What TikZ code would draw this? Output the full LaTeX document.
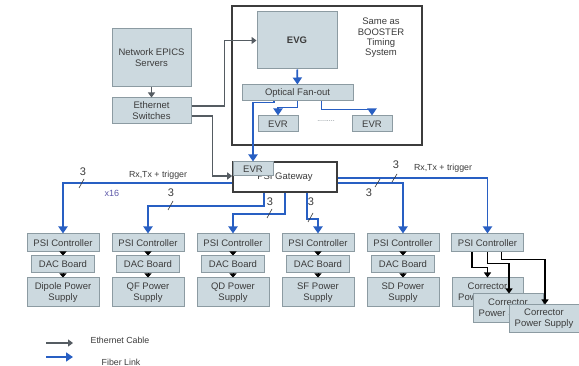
\documentclass[tikz,border=0pt]{standalone}
\usepackage{fontspec}
\setmainfont{Liberation Sans}
\usetikzlibrary{arrows.meta}
\definecolor{boxfill}{RGB}{204,217,223}
\definecolor{boxline}{RGB}{140,155,162}
\definecolor{fiberblue}{RGB}{40,95,195}
\definecolor{ethgray}{RGB}{85,92,98}
\definecolor{txt}{RGB}{60,60,60}
\definecolor{countblue}{RGB}{95,90,170}
\tikzset{
  unit/.style={draw=boxline, fill=boxfill, line width=1pt, inner sep=0pt, align=center,
    text=txt, font=\fontsize{9.5}{11}\selectfont},
  ctrl/.style={unit, minimum width=72, minimum height=18},
  dac/.style={unit, minimum width=63, minimum height=17},
  supply/.style={unit, minimum width=72, minimum height=29},
  fiber/.style={draw=fiberblue, line width=1.8pt, -{Triangle[width=9pt,length=7pt]}},
  eth/.style={draw=ethgray, line width=1.5pt, -{Triangle[width=7pt,length=5pt]}},
  step down/.style={line width=0.8pt, -{Triangle[width=7pt,length=4pt]}},
  wire/.style={line width=1.3pt, -{Triangle[width=7pt,length=5pt]}},
  tick/.style={draw=txt, line width=0.6pt},
  count/.style={text=txt, font=\fontsize{11}{12}\selectfont},
  tag/.style={text=txt, font=\fontsize{8.8}{10}\selectfont}
}
\begin{document}
\begin{tikzpicture}[x=1pt, y=-1pt]
    \useasboundingbox[fill=white] (0,0) rectangle (579,366);
    % timing system frame
    \draw[draw=txt, line width=1.6pt] (232,6) rectangle (422,145);
    \node[unit, minimum width=80, minimum height=57, font=\fontsize{9.5}{11}\selectfont\bfseries] (evg) at (297,40.5) {EVG};
    \node[text=txt, align=center, font=\fontsize{9.5}{10.3}\selectfont] (same) at (381,38) {Same as\\BOOSTER\\Timing\\System};
    \node[unit, minimum width=111, minimum height=16] (fan) at (297.5,93) {Optical Fan-out};
    \node[unit, minimum width=40, minimum height=16] (evr1) at (278,124) {EVR};
    \node[unit, minimum width=40, minimum height=16] (evr2) at (372,124) {EVR};
    \node[text=boxline!80!black, font=\fontsize{7}{8}\selectfont] (dots) at (326,121) {.........};
    % network side
    \node[unit, minimum width=79, minimum height=58] (net) at (151.5,58) {Network EPICS\\Servers};
    \node[unit, minimum width=79, minimum height=26] (es) at (151.5,111) {Ethernet\\Switches};
    % gateway
    \node[draw=txt, fill=white, line width=1.6pt, minimum width=104, minimum height=30, inner sep=0pt,
      text=txt, font=\fontsize{9.5}{11}\selectfont] (gw) at (285,177) {\raisebox{-6pt}{PSI Gateway}};
    \node[unit, minimum width=40, minimum height=14] (gevr) at (253,169) {EVR};
    % columns
    \node[ctrl] (c1) at (63,243) {PSI Controller};
    \node[dac] (d1) at (63,264.5) {DAC Board};
    \node[supply] (p1) at (63,292.5) {Dipole Power\\Supply};
    \node[ctrl] (c2) at (148,243) {PSI Controller};
    \node[dac] (d2) at (148,264.5) {DAC Board};
    \node[supply] (p2) at (148,292.5) {QF Power\\Supply};
    \node[ctrl] (c3) at (233,243) {PSI Controller};
    \node[dac] (d3) at (233,264.5) {DAC Board};
    \node[supply] (p3) at (233,292.5) {QD Power\\Supply};
    \node[ctrl] (c4) at (318,243) {PSI Controller};
    \node[dac] (d4) at (318,264.5) {DAC Board};
    \node[supply] (p4) at (318,292.5) {SF Power\\Supply};
    \node[ctrl] (c5) at (403,243) {PSI Controller};
    \node[dac] (d5) at (403,264.5) {DAC Board};
    \node[supply] (p5) at (403,292.5) {SD Power\\Supply};
    \node[ctrl] (c6) at (487.5,243) {PSI Controller};
    \node[supply, minimum width=71] (cp1) at (487.5,292.5) {Corrector\\Power Supply};
    \node[supply, minimum width=70] (cp2) at (508,308.5) {Corrector\\Power Supply};
    \node[supply, minimum width=70, minimum height=28] (cp3) at (544,319) {Corrector\\Power Supply};
    \draw[step down] (c1) -- (d1);
    \draw[step down] (d1) -- (p1);
    \draw[step down] (c2) -- (d2);
    \draw[step down] (d2) -- (p2);
    \draw[step down] (c3) -- (d3);
    \draw[step down] (d3) -- (p3);
    \draw[step down] (c4) -- (d4);
    \draw[step down] (d4) -- (p4);
    \draw[step down] (c5) -- (d5);
    \draw[step down] (d5) -- (p5);
    \draw[wire] ([xshift=-15.5pt]c6.south) -- ++(0,15) -| (cp1.north);
    \draw[wire] (c6.south) -- ++(0,11) -| ([xshift=1pt]cp2.north);
    \draw[wire] ([xshift=14pt]c6.south) -- ++(0,7) -| ([xshift=1pt]cp3.north);
    % ethernet
    \draw[eth] (net) -- (es);
    \draw[eth] ([yshift=5pt]es.east) -- ++(33,0) |- (evg.west);
    \draw[eth] ([yshift=-5pt]es.east) -- ++(21,0) |- ([yshift=1pt]gw.west);
    % fiber
    \draw[fiber] (evg) -- (fan);
    \draw[fiber] (fan.south) -- ++(0,6) -| (evr1.north);
    \draw[fiber] ([xshift=24pt]fan.south) -- ++(0,8) -| (evr2.north);
    \draw[fiber] ([xshift=-23.5pt]fan.south) -- ++(0,1) -| (gevr.north);
    \draw[fiber] ([yshift=-6pt]gw.west) -| (c1.north);
    \draw[fiber] ([xshift=-21pt]gw.south) -- ++(0,13) -| (c2.north);
    \draw[fiber] (gw.south) -- ++(0,21) -| (c3.north);
    \draw[fiber] ([xshift=22pt]gw.south) -- ++(0,26) -| (c4.north);
    \draw[fiber] ([yshift=-6pt]gw.east) -| (c5.north);
    \draw[fiber] ([yshift=-1pt]gw.east) -| (c6.north);
    % counts on the fiber bundles
    \draw[tick] (79,188) -- (84,179);
    \node[count] (n1) at (83,172) {3};
    \draw[tick] (168,210) -- (173,201);
    \node[count] (n2) at (171,193) {3};
    \draw[tick] (267,218) -- (272,209);
    \node[count] (n3) at (270,202) {3};
    \draw[tick] (308,222) -- (313,213);
    \node[count] (n4) at (311,202) {3};
    \draw[tick] (375,187) -- (380,179);
    \node[count] (n5) at (369,193) {3};
    \draw[tick] (392,182) -- (397,174);
    \node[count] (n6) at (396,165) {3};
    \node[tag] (rx1) at (158,175) {Rx,Tx + trigger};
    \node[tag] (rx2) at (443,168) {Rx,Tx + trigger};
    \node[text=countblue, font=\fontsize{9}{10}\selectfont] (x16) at (112,193) {x16};
    % legend
    \coordinate (ethA) at (46,343);
    \coordinate (ethB) at (73,343);
    \coordinate (fibA) at (46,357);
    \coordinate (fibB) at (73,357);
    \draw[eth, line width=1.2pt] (ethA) -- (ethB);
    \draw[fiber, line width=1.4pt] (fibA) -- (fibB);
    \node[tag] (ethtext) at (120,340) {Ethernet Cable};
    \node[tag] (fibtext) at (121,362) {Fiber Link};
\end{tikzpicture}
\end{document}
